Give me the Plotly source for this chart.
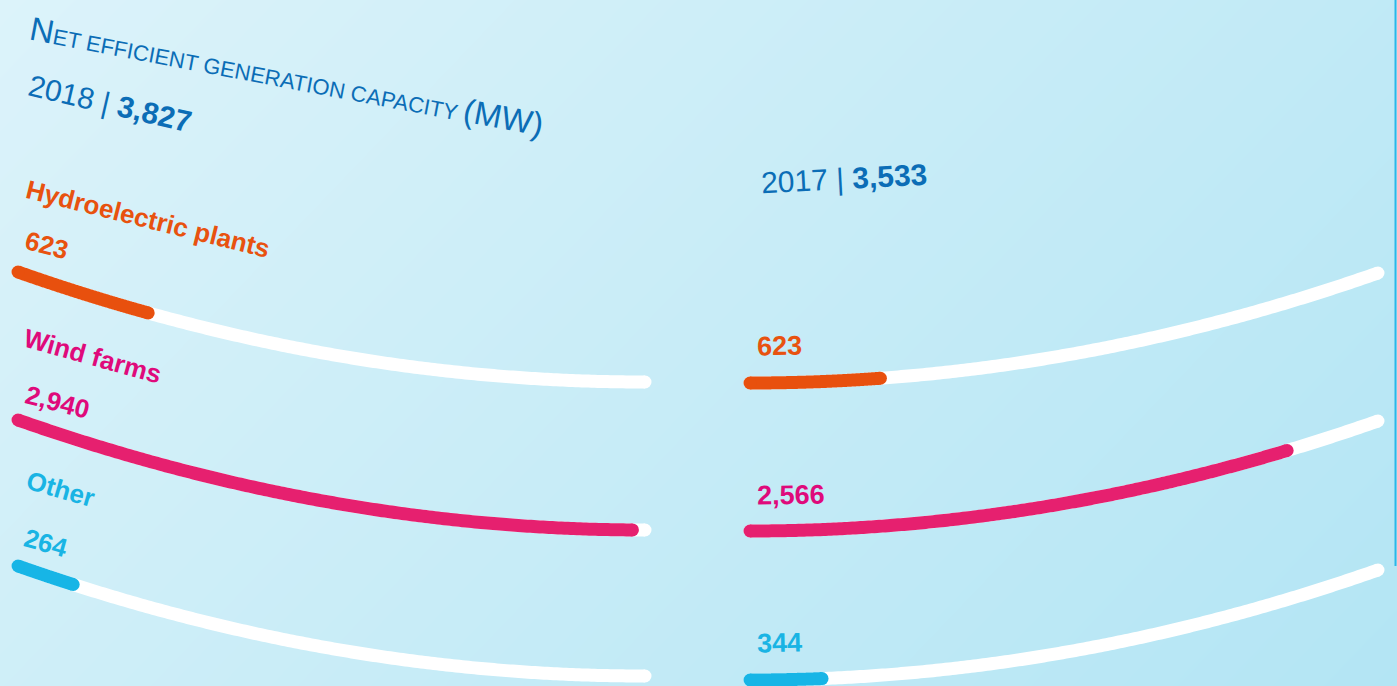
import numpy as np
import plotly.graph_objects as go

# ---------------- data ----------------
categories = ["Hydroelectric plants", "Wind farms", "Other"]
values_2018 = [623, 2940, 264]
values_2017 = [623, 2566, 344]
labels_2018 = ["623", "2,940", "264"]
labels_2017 = ["623", "2,566", "344"]
total_2018 = "3,827"
total_2017 = "3,533"
scale_max = 3000

# ---------------- style ----------------
bar_colors = ["#e8500e", "#e6206f", "#17b5e6"]
text_colors = ["#e8520f", "#df0a7b", "#19b4e4"]
blue = "#0b6db6"
FONT = "Liberation Sans, Arial, sans-serif"
W, H = 1397, 686
LW = 13

left_px = (18, 645)
right_px = (750, 1378)
left_flat_y = [382, 530, 676]
right_flat_y = [383, 531, 680]
drop = 110
pad = 50
unit = (left_px[1] - left_px[0]) / scale_max


def dom(px):
    return [(px[0] - pad * unit) / W, (px[1] + pad * unit) / W]


def left_y(v, yflat):
    return yflat - drop * ((scale_max - v) / scale_max) ** 2


def right_y(v, yflat):
    return yflat - drop * (v / scale_max) ** 2


fig = go.Figure()

# background gradient
fig.add_trace(go.Heatmap(
    x=[0, W], y=[0, H], z=[[0, 0.68], [0.32, 1]],
    colorscale=[[0, "#dcf3fa"], [1, "#b3e5f4"]], zsmooth="best",
    showscale=False, hoverinfo="skip", xaxis="x", yaxis="y"))


def arc(xaxis, vmax, fy, yflat, color):
    v = np.linspace(0, vmax, 200)
    y = fy(v, yflat)
    fig.add_trace(go.Scatter(
        x=v, y=y, mode="lines", xaxis=xaxis, yaxis="y",
        line=dict(color=color, width=LW, simplify=False),
        hoverinfo="skip", showlegend=False))
    fig.add_trace(go.Scatter(
        x=[v[0], v[-1]], y=[y[0], y[-1]], mode="markers", xaxis=xaxis, yaxis="y",
        marker=dict(color=color, size=LW, opacity=1, line=dict(width=0)),
        cliponaxis=False, hoverinfo="skip", showlegend=False))


for i in range(3):
    arc("x2", scale_max, left_y, left_flat_y[i], "#ffffff")
    arc("x2", values_2018[i], left_y, left_flat_y[i], bar_colors[i])
    arc("x3", scale_max, right_y, right_flat_y[i], "#ffffff")
    arc("x3", values_2017[i], right_y, right_flat_y[i], bar_colors[i])

ann = []


def add(text, x, y, size, color, angle=0, bold=False):
    ann.append(dict(text=("<b>%s</b>" % text) if bold else text, x=x, y=y,
                    xref="x", yref="y", showarrow=False, textangle=angle,
                    xanchor="center", yanchor="middle",
                    font=dict(family=FONT, size=size, color=color)))


add('<span style="font-size:33px">N</span>ET EFFICIENT GENERATION CAPACITY '
    '<span style="font-size:33px">(MW)</span>', 287, 76, 22, blue, 10.7)
add("2018 | <b>%s</b>" % total_2018, 110, 103, 30, blue, 13)
add("2017 | <b>%s</b>" % total_2017, 844, 178, 30, blue, -3)

name_pos = [(148, 219, 14), (92, 356, 15.5), (60, 489, 16)]
num_pos = [(46, 245, 14.5), (57, 402, 14.5), (46, 543, 15.5)]
rnum_pos = [(779, 346), (791, 495), (779, 643)]
for i in range(3):
    nx, ny, na = name_pos[i]
    add(categories[i], nx, ny, 26, text_colors[i], na, bold=True)
    mx, my, ma = num_pos[i]
    add(labels_2018[i], mx, my, 26, text_colors[i], ma, bold=True)
    rx, ry = rnum_pos[i]
    add(labels_2017[i], rx, ry, 27, text_colors[i], -1, bold=True)

hidden = dict(visible=False, fixedrange=True)
fig.update_layout(
    width=W, height=H, margin=dict(l=0, r=0, t=0, b=0, pad=0),
    paper_bgcolor="#d0eff9", plot_bgcolor="rgba(0,0,0,0)",
    showlegend=False, annotations=ann,
    xaxis=dict(domain=[0, 1], range=[0, W], **hidden),
    yaxis=dict(domain=[0, 1], range=[H, 0], **hidden),
    xaxis2=dict(domain=dom(left_px), range=[-pad, scale_max + pad], anchor="y", **hidden),
    xaxis3=dict(domain=dom(right_px), range=[-pad, scale_max + pad], anchor="y", **hidden),
    shapes=[dict(type="line", xref="x", yref="y", x0=1395.5, x1=1395.5, y0=0, y1=566,
                 line=dict(color="#2cb7e8", width=2))],
)

fig.write_html(
    "out.html",
    config={"displayModeBar": False},
    post_script="document.body.style.margin='0';document.body.style.overflow='hidden';",
)
